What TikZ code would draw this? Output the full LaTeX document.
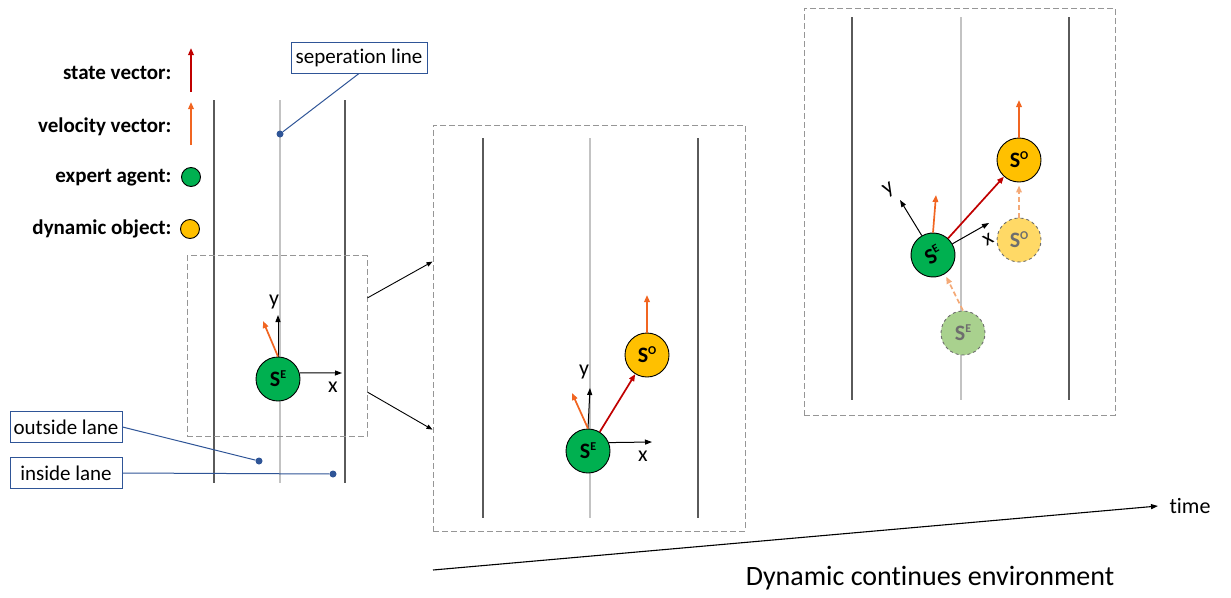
\documentclass[tikz,border=0pt]{standalone}
\usepackage{fontspec}
\setmainfont{Carlito}[Ligatures=NoCommon]
\usetikzlibrary{arrows.meta}

\definecolor{egoGreen}{HTML}{00B050}
\definecolor{objYellow}{HTML}{FFC000}
\definecolor{stateRed}{HTML}{C00000}
\definecolor{velOrange}{RGB}{241,101,33}
\definecolor{ghostOrange}{RGB}{244,170,120}
\definecolor{ghostGreen}{RGB}{169,209,142}
\definecolor{ghostYellow}{RGB}{255,217,102}
\definecolor{ghostText}{RGB}{110,110,110}
\definecolor{calloutBlue}{HTML}{2F5597}
\definecolor{laneDark}{RGB}{90,90,90}
\definecolor{laneLight}{RGB}{195,195,195}
\definecolor{frameGray}{RGB}{150,150,150}

% state symbol with a raised index letter
\newcommand\stname[1]{S\raisebox{8pt}{\fontsize{12}{12}\selectfont #1}}

\tikzset{
  lanedark/.style={draw=laneDark, line width=1.3pt},
  lanelight/.style={draw=laneLight, line width=1.3pt},
  framebox/.style={draw=frameGray, dash pattern=on 6pt off 3pt, line width=1pt,
    rectangle, inner sep=0pt},
  agentnode/.style={circle, draw=black, line width=0.9pt, fill=egoGreen,
    minimum size=44pt, inner sep=0pt,
    font=\bfseries\fontsize{22}{24}\selectfont},
  objnode/.style={agentnode, fill=objYellow},
  ghostego/.style={agentnode, fill=ghostGreen, draw=ghostText, dashed,
    text=ghostText},
  ghostobj/.style={agentnode, fill=ghostYellow, draw=ghostText, dashed,
    text=ghostText},
  legendtext/.style={anchor=east, font=\bfseries\fontsize{21}{24}\selectfont},
  legendcirc/.style={circle, draw=black, line width=0.9pt, minimum size=19pt,
    inner sep=0pt},
  velarrow/.style={draw=velOrange, line width=1.7pt,
    -{Triangle[length=7pt,width=5.5pt]}},
  statearrow/.style={draw=stateRed, line width=1.7pt,
    -{Triangle[length=7pt,width=5.5pt]}},
  ghostarrow/.style={draw=ghostOrange, line width=1.7pt, dash pattern=on 5pt off 3pt,
    -{Triangle[length=7pt,width=5.5pt]}},
  axisarrow/.style={draw=black, line width=1pt,
    -{Triangle[length=7pt,width=5pt]}},
  axislabel/.style={font=\fontsize{22}{24}\selectfont, inner sep=0pt},
  callout/.style={draw=calloutBlue, line width=1pt, fill=white,
    font=\fontsize{21}{24}\selectfont, minimum height=31pt, inner xsep=3pt},
  leader/.style={draw=calloutBlue, line width=1pt},
  leaderdot/.style={circle, fill=calloutBlue, inner sep=0pt, minimum size=7pt},
  zoomarrow/.style={draw=black, line width=0.9pt,
    -{Triangle[length=6pt,width=4.5pt]}},
}

\begin{document}
\begin{tikzpicture}[x=1pt,y=-1pt]
\useasboundingbox (0,0) rectangle (1231,597);

% ---------------- legend ----------------
\node[legendtext] (lgState) at (175,73) {state vector:};
\node[legendtext] (lgVel) at (175,127) {velocity vector:};
\node[legendtext] (lgExp) at (175,178) {expert agent:};
\node[legendtext] (lgObj) at (175,229) {dynamic object:};
\coordinate (lsA) at (191,92);  \coordinate (lsB) at (191,48);
\coordinate (lvA) at (191,145); \coordinate (lvB) at (191,102);
\draw[statearrow] (lsA) -- (lsB);
\draw[velarrow] (lvA) -- (lvB);
\node[legendcirc, fill=egoGreen] (lgExpC) at (191,177) {};
\node[legendcirc, fill=objYellow] (lgObjC) at (190,229) {};

% ---------------- left scene: road overview ----------------
\draw[lanedark] (214,100) -- (214,483);
\draw[lanelight] (280,100) -- (280,483);
\draw[lanedark] (345,100) -- (345,483);

\node[framebox, minimum width=180pt, minimum height=181pt] (zoomL) at (277,346) {};

\node[agentnode] (eL) at (278,379) {\stname{E}};
\coordinate (eLy) at (278,315);
\coordinate (eLx) at (342,373);
\coordinate (eLv) at (263,321);
\draw[axisarrow] (eL.north) -- (eLy);
\draw[axisarrow] (eL.16) -- (eLx);
\draw[velarrow] (eL.north) -- (eLv);
\node[axislabel] (eLyl) at (274,302) {y};
\node[axislabel] (eLxl) at (333,387) {x};

% callouts
\node[callout, minimum width=136pt] (sepBox) at (359,57.5) {seperation line};
\node[leaderdot] (sepDot) at (280,134) {};
\draw[leader] (sepBox.south) -- (sepDot);

\node[callout, minimum width=112pt] (outBox) at (66,427) {outside lane};
\node[leaderdot] (outDot) at (259,461) {};
\draw[leader] (outBox.east) -- (outDot);

\node[callout, minimum width=112pt] (inBox) at (66,473) {inside lane};
\node[leaderdot] (inDot) at (333,474) {};
\draw[leader] (inBox.east) -- (inDot);

% ---------------- middle scene: zoomed view ----------------
\node[framebox, minimum width=312pt, minimum height=406pt] (frameM) at (589,328) {};
\draw[lanedark] (483,138) -- (483,518);
\draw[lanelight] (590,138) -- (590,518);
\draw[lanedark] (698,138) -- (698,518);

\draw[zoomarrow] (zoomL.28) -- (frameM.157.5);
\draw[zoomarrow] (zoomL.-27) -- (frameM.-147);

\node[agentnode] (eM) at (588,451) {\stname{E}};
\node[objnode] (oM) at (647,355) {\stname{O}};
\coordinate (eMy) at (590,388);
\coordinate (eMx) at (652,442);
\coordinate (eMv) at (572,393);
\coordinate (oMv) at (647,295);
\draw[axisarrow] (eM.north) -- (eMy);
\draw[axisarrow] (eM.22) -- (eMx);
\draw[velarrow] (eM.north) -- (eMv);
\draw[statearrow] (eM) -- (oM);
\draw[velarrow] (oM.north) -- (oMv);
\node[axislabel] (eMyl) at (584,372) {y};
\node[axislabel] (eMxl) at (643,456) {x};

% ---------------- right scene: next time step ----------------
\node[framebox, minimum width=311pt, minimum height=407pt] (frameR) at (959.5,211.5) {};
\draw[lanedark] (852,17) -- (852,400);
\draw[lanelight] (961,17) -- (961,400);
\draw[lanedark] (1069,17) -- (1069,400);

\node[ghostego] (gE) at (963,333) {\stname{E}};
\node[ghostobj] (gO) at (1019,240) {\stname{O}};
\node[agentnode, rotate=30] (eR) at (933,255) {\stname{E}};
\node[objnode] (oR) at (1019,160) {\stname{O}};

\draw[ghostarrow, shorten >=3pt] (gE.north) -- (eR.-88);
\draw[ghostarrow, shorten >=3pt] (gO.north) -- (oR.south);

\coordinate (eRy) at (900,200);
\coordinate (eRx) at (989,223);
\coordinate (eRv) at (936,195);
\coordinate (oRv) at (1019,100);
\draw[axisarrow] (eR.north) -- (eRy);
\draw[axisarrow] (eR.east) -- (eRx);
\draw[velarrow] (eR.60) -- (eRv);
\draw[statearrow] (eR) -- (oR);
\draw[velarrow] (oR.north) -- (oRv);
\node[axislabel, rotate=30] (eRyl) at (889,190) {y};
\node[axislabel, rotate=30] (eRxl) at (988,240) {x};

% ---------------- time axis ----------------
\coordinate (tStart) at (433,570);
\coordinate (tEnd) at (1158,506);
\draw[draw=black, line width=1.1pt, -{Triangle[length=7pt,width=5pt]}] (tStart) -- (tEnd);
\node[font=\fontsize{22}{24}\selectfont, anchor=west] (timeLbl) at (1166,506) {time};
\node[font=\fontsize{28}{32}\selectfont] (envLbl) at (930,578) {Dynamic continues environment};

\end{tikzpicture}
\end{document}
